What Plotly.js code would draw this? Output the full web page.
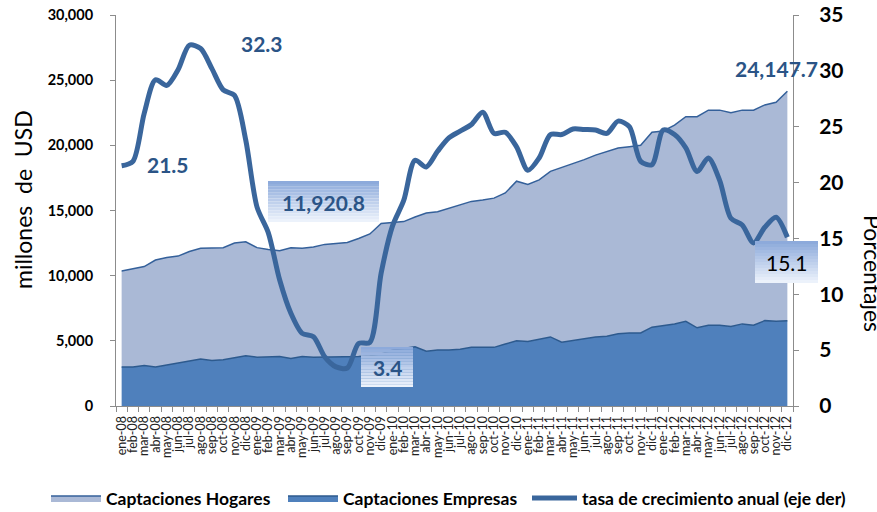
<!DOCTYPE html>
<html>
<head>
<meta charset="utf-8">
<script src="https://cdn.plot.ly/plotly-3.0.1.min.js"></script>
<style>html,body{margin:0;padding:0;background:#fff;}#chart{width:877px;height:512px;}</style>
</head>
<body>
<div id="chart"></div>
<script>
// ---- data ----
const months = [
 "ene-08","feb-08","mar-08","abr-08","may-08","jun-08","jul-08","ago-08","sep-08","oct-08","nov-08","dic-08",
 "ene-09","feb-09","mar-09","abr-09","may-09","jun-09","jul-09","ago-09","sep-09","oct-09","nov-09","dic-09",
 "ene-10","feb-10","mar-10","abr-10","may-10","jun-10","jul-10","ago-10","sep-10","oct-10","nov-10","dic-10",
 "ene-11","feb-11","mar-11","abr-11","may-11","jun-11","jul-11","ago-11","sep-11","oct-11","nov-11","dic-11",
 "ene-12","feb-12","mar-12","abr-12","may-12","jun-12","jul-12","ago-12","sep-12","oct-12","nov-12","dic-12"];

// Captaciones Empresas (millones de USD)
const empresas = [
 3000,3000,3100,3000,3150,3300,3500,3600,3500,3550,3700,3850,
 3750,3750,3800,3650,3800,3750,3750,3800,3750,3800,3850,4000,
 4300,4400,4550,4200,4300,4300,4350,4500,4500,4500,4750,5000,
 4950,5100,5300,4900,5050,5200,5300,5350,5550,5600,5600,6050,
 6150,6300,6500,6000,6200,6200,6100,6300,6200,6550,6500,6550];

// Captaciones Hogares (millones de USD)
const hogares = [
 7350,7500,7600,8200,8250,8200,8350,8500,8600,8600,8800,8750,
 8400,8250,8120.8,8500,8300,8450,8650,8700,8800,9050,9350,10000,
 9750,9750,9950,10600,10600,10850,11050,11200,11300,11450,11600,12250,
 12050,12250,12700,13400,13500,13700,13950,14200,14250,14300,14400,14950,
 14950,15250,15700,16200,16500,16500,16400,16400,16500,16550,16800,17597.7];

// tasa de crecimiento anual (%)
const tasa = [
 21.5,21.9,26.2,29.2,28.7,30.1,32.3,32.0,30.2,28.3,27.8,23.8,
 17.8,15.5,11.3,8.3,6.5,6.2,4.4,3.5,3.4,5.6,5.7,11.9,
 16.1,18.4,22.0,21.4,22.8,24.0,24.6,25.2,26.3,24.4,24.5,23.2,
 21.1,22.2,24.3,24.3,24.8,24.75,24.7,24.4,25.5,25.0,21.9,21.6,
 24.7,24.3,23.1,21.0,22.2,20.2,16.8,16.2,14.6,16.0,16.9,15.1];

const yTicks = [0,5000,10000,15000,20000,25000,30000];
const y2Ticks = [0,5,10,15,20,25,30,35];

// ---- layout helpers ----
const L = 116, R = 793, T = 15, B = 406;
const px = v => (v - L) / (R - L);
const py = v => (B - v) / (B - T);
function lerp(a, b, t){ return Math.round(a + (b - a) * t); }
function gradBox(x0, y0, x1, y1){
  const n = 14, out = [];
  const c0 = [141,170,219], c1 = [236,242,251];
  for (let i = 0; i < n; i++){
    const t = i / (n - 1);
    const col = `rgb(${lerp(c0[0],c1[0],t)},${lerp(c0[1],c1[1],t)},${lerp(c0[2],c1[2],t)})`;
    const ya = y0 + (y1 - y0) * i / n, yb = y0 + (y1 - y0) * (i + 1) / n;
    out.push({type:'rect', xref:'paper', yref:'paper', x0:px(x0), x1:px(x1), y0:py(yb), y1:py(ya),
      fillcolor: col, line:{width:0}, layer:'above'});
  }
  return out;
}

const FONT = 'Lato, "Open Sans", sans-serif';
const LBL = '#2b5486';

const traces = [
  {x: months, y: empresas, name: 'Captaciones Empresas', type: 'scatter', mode: 'lines',
   stackgroup: 'a', fillcolor: '#4f80bc', line: {color: '#2d5a8e', width: 1.5}, legendrank: 2, legend: 'legend'},
  {x: months, y: hogares, name: 'Captaciones Hogares', type: 'scatter', mode: 'lines',
   stackgroup: 'a', fillcolor: '#aab9d6', line: {color: '#34609a', width: 1.5}, legendrank: 1, legend: 'legend'},
  {x: months, y: tasa, name: 'tasa de crecimiento anual (eje der)', type: 'scatter', mode: 'lines',
   yaxis: 'y2', line: {color: '#3a669c', width: 5, shape: 'spline', smoothing: 0.8}, legend: 'legend2'}
];

const shapes = [].concat(
  gradBox(268, 181, 379, 222),
  gradBox(361, 347, 413, 387),
  gradBox(755, 241, 818, 283)
);

function ann(x, y, text, opts){
  return Object.assign({xref:'paper', yref:'paper', x:px(x), y:py(y), text:text, showarrow:false,
    xanchor:'center', yanchor:'middle', font:{size:21, color:LBL, family:FONT}}, opts || {});
}

const annotations = [
  ann(262, 43, '<b>32.3</b>'),
  ann(168, 164, '<b>21.5</b>'),
  ann(323.5, 202, '<b>11,920.8</b>'),
  ann(387, 367, '<b>3.4</b>'),
  ann(776, 68, '<b>24,147.7</b>'),
  ann(786.5, 262, '15.1', {font:{size:21, color:'#000', family:FONT}}),
  ann(23, 200, 'millones&nbsp; de&nbsp; USD', {textangle:-90, font:{size:23, color:'#000', family:FONT}}),
  ann(873, 273, 'Porcentajes', {textangle:90, font:{size:23, color:'#000', family:FONT}})
];

const legendFont = {size: 17.5, family: FONT, color: '#000', weight: 'bold'};

const layout = {
  width: 877, height: 512,
  margin: {l: L, r: 877 - R, t: T, b: 512 - B, pad: 0, autoexpand: false},
  paper_bgcolor: '#fff', plot_bgcolor: 'rgba(0,0,0,0)',
  font: {family: FONT, color: '#000'},
  xaxis: {type: 'category', range: [-0.5, 59.5], tickmode: 'linear', tick0: 0, dtick: 1,
    tickangle: -90, tickson: 'boundaries', automargin: false,
    ticks: 'outside', ticklen: 5, tickcolor: '#8c8c8c', showline: true, linecolor: '#8c8c8c', linewidth: 1,
    showgrid: false, zeroline: false, ticklabelstandoff: 4, tickfont: {size: 12.5, family: FONT, color: '#222'}},
  yaxis: {range: [0, 30000], tickvals: yTicks, tickformat: ',d', ticks: 'outside', ticklen: 5, automargin: false,
    tickcolor: '#8c8c8c', showline: true, linecolor: '#8c8c8c', linewidth: 1, showgrid: false, zeroline: false,
    ticklabelstandoff: 14, tickfont: {size: 14.5, family: FONT, color: '#000', weight: 'bold'}},
  yaxis2: {range: [0, 35], tickvals: y2Ticks, overlaying: 'y', side: 'right', ticks: 'outside', ticklen: 5, automargin: false,
    tickcolor: '#8c8c8c', showline: true, linecolor: '#8c8c8c', linewidth: 1, showgrid: false, zeroline: false,
    ticklabelstandoff: 16, tickfont: {size: 21, family: FONT, color: '#000', weight: 'bold'}},
  legend: {orientation: 'h', x: px(46), xanchor: 'left', y: py(498), yanchor: 'middle',
    itemwidth: 50, entrywidth: 172, entrywidthmode: 'pixels', traceorder: 'normal',
    font: legendFont, bgcolor: 'rgba(0,0,0,0)'},
  legend2: {orientation: 'h', x: px(527), xanchor: 'left', y: py(498), yanchor: 'middle',
    itemwidth: 45, font: legendFont, bgcolor: 'rgba(0,0,0,0)'},
  shapes: shapes,
  annotations: annotations,
  showlegend: true
};

Plotly.newPlot('chart', traces, layout, {displayModeBar: false, staticPlot: true});
</script>
</body>
</html>
